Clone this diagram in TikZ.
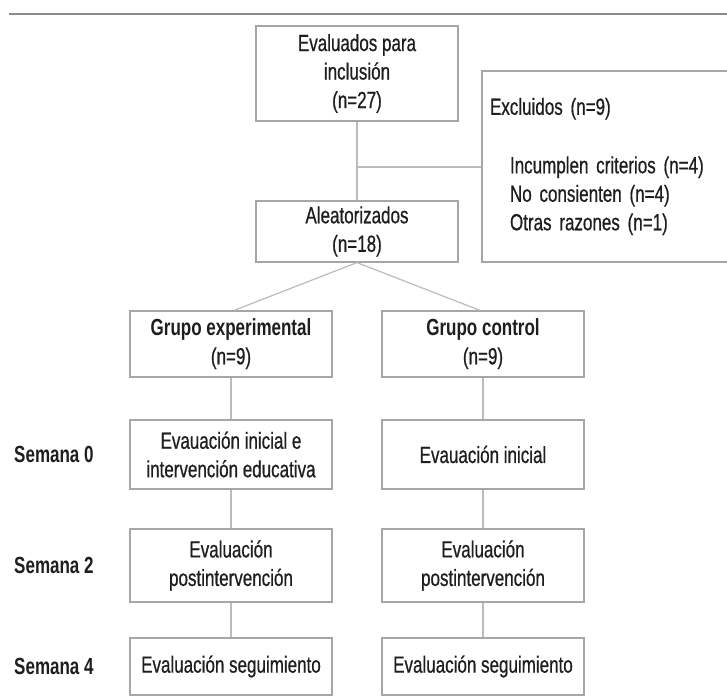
\documentclass[tikz,border=0pt]{standalone}
\usepackage{fontspec}
\setmainfont{Liberation Sans}[FakeStretch=0.73, UprightFeatures={FakeBold=0.6}]
\definecolor{txt}{HTML}{1E1E1E}
\definecolor{bx}{HTML}{A6A6A6}
\definecolor{ln}{HTML}{BBBBBB}
\definecolor{rule}{HTML}{8C8C8C}
\begin{document}
\spaceskip=4.8pt plus 1pt minus 1pt\relax
\begin{tikzpicture}[x=1pt,y=-1pt,
  every node/.style={font=\fontsize{23.3}{28.5}\selectfont, text=txt},
  box/.style={draw=bx, line width=1.2pt, minimum width=202pt, align=center, inner sep=0pt},
  conn/.style={draw=ln, line width=1.2pt},
  lab/.style={font=\fontsize{23.3}{28.5}\selectfont\bfseries, anchor=west, inner sep=0pt}]
\useasboundingbox (0,0) rectangle (727,696);
\clip (0,0) rectangle (727,696);
\fill[white] (0,0) rectangle (727,696);
% top rule
\coordinate (rl) at (9,14);
\coordinate (rr) at (727,14);
\draw[rule, line width=1.5pt] (rl) -- (rr);
% boxes
\node[box, minimum height=95pt] (eval) at (357,73.5) {Evaluados para\\inclusión\\(n=27)};
\node[box, minimum height=61pt] (alea) at (357,231.5) {Aleatorizados\\(n=18)};
\node[draw=bx, line width=1.2pt, text width=262pt, minimum height=191pt, inner sep=8pt, align=left] (excl) at (621,166.5)
  {Excluidos (n=9)\\[30pt]\hspace*{20pt}Incumplen criterios (n=4)\\\hspace*{20pt}No consienten (n=4)\\\hspace*{20pt}Otras razones (n=1)};
\node[box, minimum height=66pt] (ge) at (231,344) {\textbf{Grupo experimental}\\(n=9)};
\node[box, minimum height=66pt] (gc) at (483,344) {\textbf{Grupo control}\\(n=9)};
\node[box, minimum height=69pt] (e0) at (231,454.5) {Evauación inicial e\\intervención educativa};
\node[box, minimum height=69pt] (c0) at (483,454.5) {Evauación inicial};
\node[box, minimum height=73pt] (e2) at (231,565.5) {Evaluación\\postintervención};
\node[box, minimum height=73pt] (c2) at (483,565.5) {Evaluación\\postintervención};
\node[box, minimum height=57pt] (e4) at (231,666.5) {Evaluación seguimiento};
\node[box, minimum height=57pt] (c4) at (483,666.5) {Evaluación seguimiento};
% labels
\node[lab] (s0) at (14,454.5) {Semana 0};
\node[lab] (s2) at (14,565.5) {Semana 2};
\node[lab] (s4) at (14,666.5) {Semana 4};
% connectors
\draw[conn] (eval.south) -- (alea.north);
\coordinate (br) at (357,167);
\draw[conn] (br) -- (br -| excl.west);
\draw[conn] (alea.south) -- ([xshift=3pt]ge.north);
\draw[conn] (alea.south) -- ([xshift=-3pt]gc.north);
\draw[conn] (ge.south) -- (e0.north);
\draw[conn] (e0.south) -- (e2.north);
\draw[conn] (e2.south) -- (e4.north);
\draw[conn] (gc.south) -- (c0.north);
\draw[conn] (c0.south) -- (c2.north);
\draw[conn] (c2.south) -- (c4.north);
\end{tikzpicture}
\end{document}
